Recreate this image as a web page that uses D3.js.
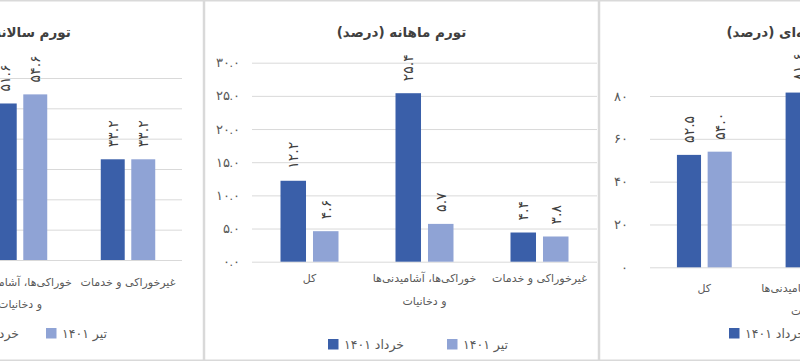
<!DOCTYPE html>
<html lang="fa">
<head>
<meta charset="UTF-8">
<title>تورم خرداد و تیر ۱۴۰۱</title>
<style>
  body { margin: 0; background: #fff; }
  svg { display: block; font-family: "DejaVu Sans", sans-serif; }
  .grid line { stroke: #d9d9d9; stroke-width: 1px; }
  .grid path, .yaxis path, .yaxis line { display: none; }
  .yaxis text { fill: #595959; font-size: 12.5px; }
  .cat { fill: #595959; font-size: 11px; }
  .title { fill: #404040; font-size: 13.5px; font-weight: bold; }
  .val { fill: #404040; font-size: 14px; }
  .leg { fill: #595959; font-size: 12.5px; }
  .frame { fill: none; stroke: #d9d9d9; stroke-width: 1.5px; }
</style>
</head>
<body>
<svg width="800" height="363"></svg>
<script src="https://d3js.org/d3.v7.min.js"></script>
<script>
const categories = ["کل", "خوراکی‌ها، آشامیدنی‌ها و دخانیات", "غیرخوراکی و خدمات"];
// how the axis shows each category (wrapped as in the original)
const categoryLines = [["کل"], ["خوراکی‌ها، آشامیدنی‌ها", "و دخانیات"], ["غیرخوراکی و خدمات"]];
const seriesNames = ["خرداد ۱۴۰۱", "تیر ۱۴۰۱"];
const colors = ["#3a5fa9", "#8fa3d5"];

const annualKhordad = [39.3, 51.6, 33.2];
const annualTir = [40.5, 54.6, 33.2];
const monthlyKhordad = [12.2, 25.4, 4.4];
const monthlyTir = [4.6, 5.7, 3.8];
const p2pKhordad = [52.5, 81.6, 37.4];
const p2pTir = [54.0, 86.5, 38.6];

const annualTicks = [0, 10, 20, 30, 40, 50, 60];
const monthlyTicks = [0, 5, 10, 15, 20, 25, 30];
const p2pTicks = [0, 20, 40, 60, 80];

// layout of each of the three frames (left one and right one are cut by the window)
const panels = [
  { title: "تورم سالانه (درصد)", series: [annualKhordad, annualTir], ticks: annualTicks, dec: 0,
    x0: -192, x1: 203.5, plotL: -142, plotR: 182, base: 260, topY: 78, pad: 14,
    catY: 285.5, legY: 333, legX: -57, legGap: 103 },
  { title: "تورم ماهانه (درصد)", series: [monthlyKhordad, monthlyTir], ticks: monthlyTicks, dec: 1,
    x0: 204.5, x1: 598.5, plotL: 252, plotR: 597, base: 261.7, topY: 62.7, pad: 12,
    catY: 282, legY: 344, legX: 328, legGap: 119 },
  { title: "تورم نقطه‌ای (درصد)", series: [p2pKhordad, p2pTir], ticks: p2pTicks, dec: 0,
    x0: 599.5, x1: 995, plotL: 650, plotR: 976, base: 267.3, topY: 96, pad: 22,
    catY: 292, legY: 333, legX: 729, legGap: 103 }
];

const faDigits = "۰۱۲۳۴۵۶۷۸۹";
const fa = s => String(s).replace(/[0-9]/g, d => faDigits[+d]);

const svg = d3.select("svg");

panels.forEach(p => {
  const g = svg.append("g");

  g.append("rect").attr("class", "frame")
    .attr("x", p.x0).attr("y", 0.75)
    .attr("width", p.x1 - p.x0).attr("height", 359.5);

  const x0 = d3.scaleBand().domain(categories).range([p.plotL, p.plotR]);
  const x1 = d3.scaleBand().domain([0, 1]).range([0, x0.bandwidth()])
    .paddingInner(0.215).paddingOuter(0.877);
  const y = d3.scaleLinear().domain([0, d3.max(p.ticks)]).range([p.base, p.topY]);

  g.append("g").attr("class", "grid")
    .attr("transform", `translate(${p.plotL},0)`)
    .call(d3.axisLeft(y).tickValues(p.ticks).tickSize(-(p.plotR - p.plotL)).tickFormat(""));

  g.append("g").attr("class", "yaxis")
    .attr("transform", `translate(${p.plotL},0)`)
    .call(d3.axisLeft(y).tickValues(p.ticks).tickSize(0).tickPadding(p.pad)
      .tickFormat(d => fa(d3.format(`.${p.dec}f`)(d))));

  p.series.forEach((vals, si) => {
    const bars = g.append("g").selectAll("g")
      .data(vals.map((v, i) => ({ cat: categories[i], v })))
      .join("g");

    bars.append("rect")
      .attr("x", d => x0(d.cat) + x1(si))
      .attr("y", d => y(d.v))
      .attr("width", x1.bandwidth())
      .attr("height", d => y(0) - y(d.v))
      .attr("fill", colors[si]);

    bars.append("text").attr("class", "val")
      .attr("transform", d => `translate(${x0(d.cat) + x1(si) + x1.bandwidth() / 2},${y(d.v) - 12}) rotate(-90)`)
      .attr("dy", "0.35em")
      .attr("text-anchor", "start")
      .text(d => fa(d3.format(".1f")(d.v)));
  });

  const cats = g.append("g").selectAll("text")
    .data(categories)
    .join("text").attr("class", "cat")
    .attr("text-anchor", "middle");
  cats.selectAll("tspan")
    .data((d, i) => categoryLines[i].map(t => ({ t, cat: d })))
    .join("tspan")
    .attr("x", d => x0(d.cat) + x0.bandwidth() / 2)
    .attr("y", (d, j) => p.catY + j * 22.7)
    .text(d => d.t);

  g.append("text").attr("class", "title")
    .attr("x", (p.x0 + p.x1) / 2).attr("y", 37)
    .attr("text-anchor", "middle")
    .text(p.title);

  const leg = g.append("g").selectAll("g")
    .data(seriesNames)
    .join("g")
    .attr("transform", (d, i) => `translate(${p.legX + i * p.legGap},${p.legY})`);
  leg.append("rect").attr("y", -5).attr("width", 10.5).attr("height", 10.5)
    .attr("fill", (d, i) => colors[i]);
  leg.append("text").attr("class", "leg")
    .attr("x", 16).attr("y", 4.5)
    .text(d => d);
});
</script>
</body>
</html>
